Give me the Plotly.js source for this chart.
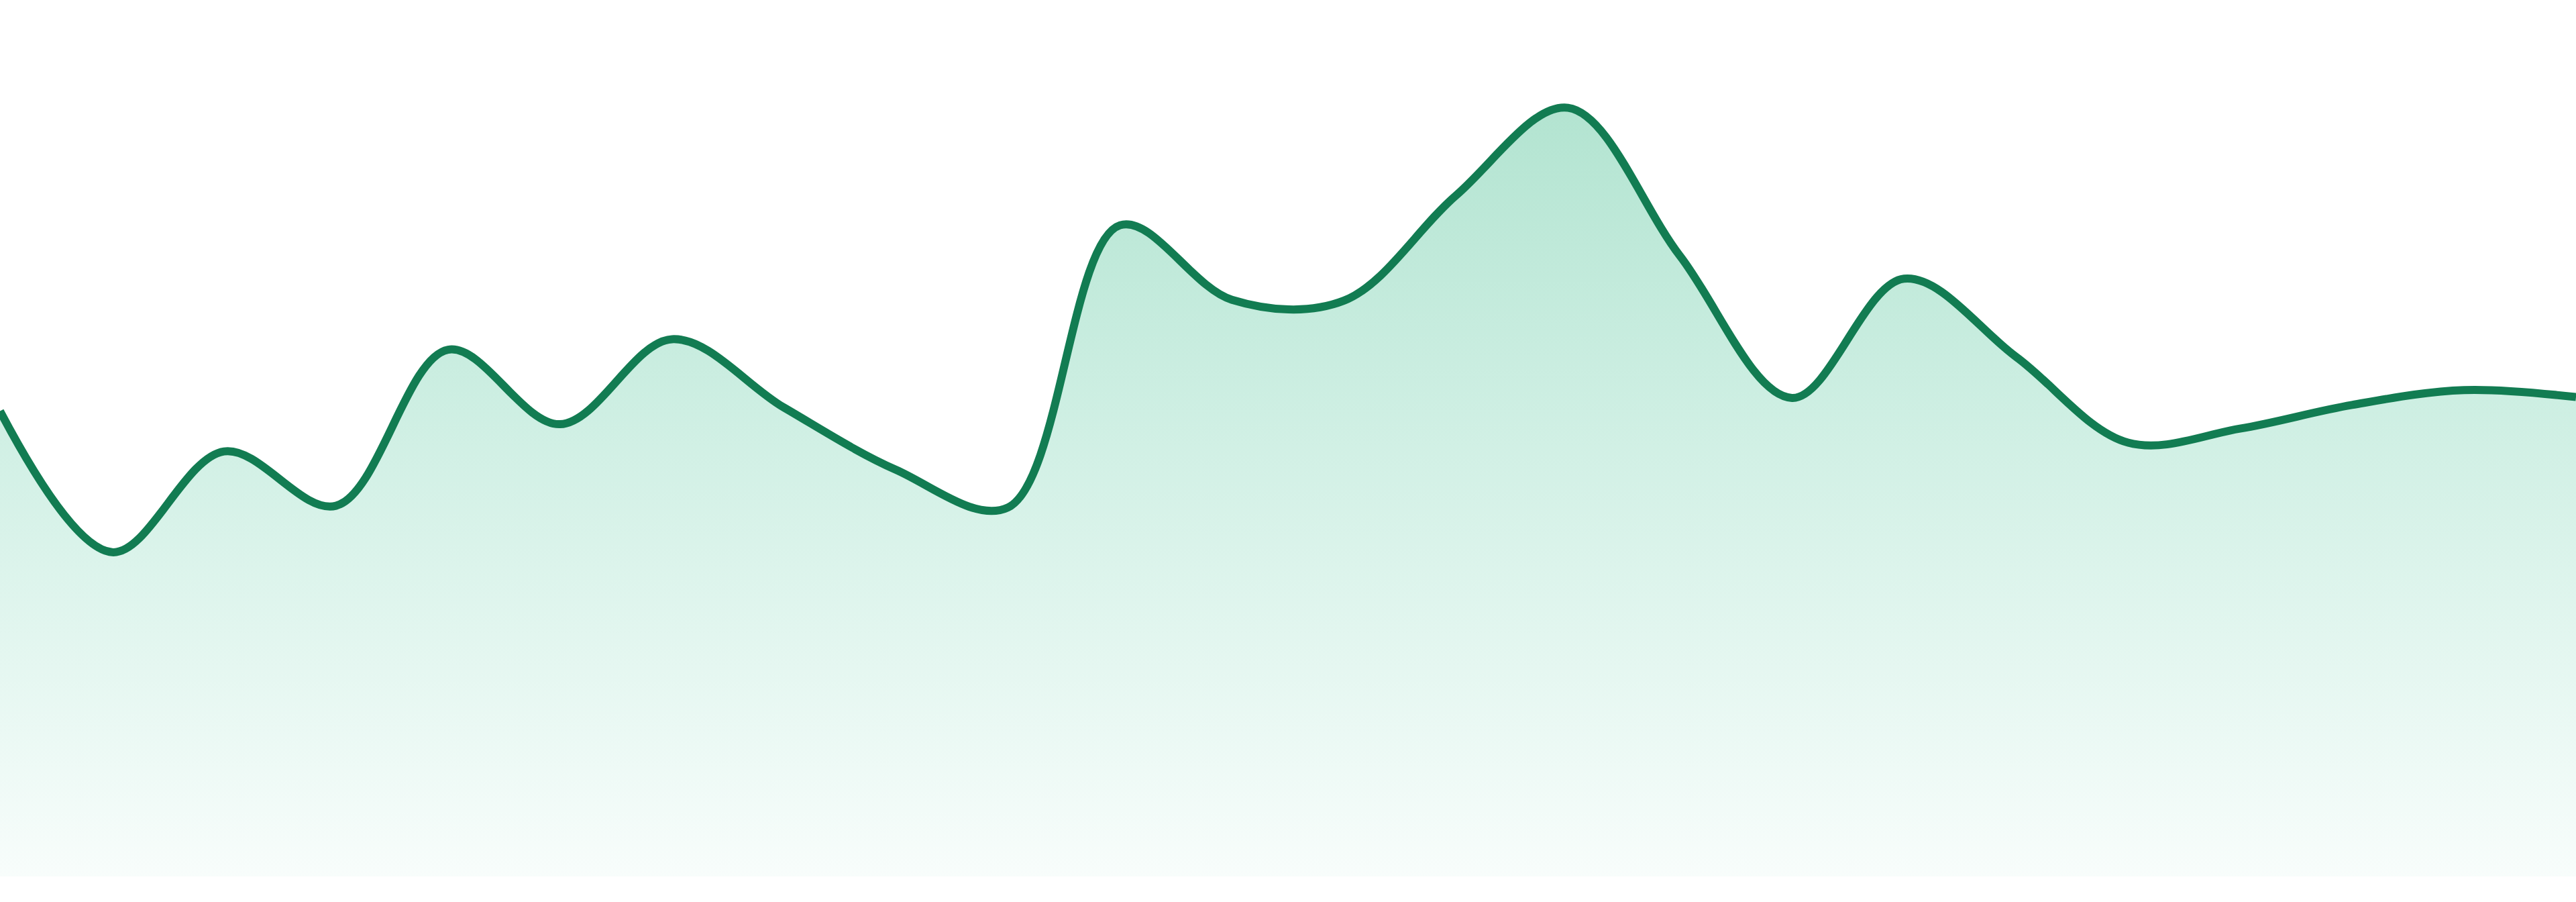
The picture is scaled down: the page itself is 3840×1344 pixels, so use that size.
<!DOCTYPE html>
<html>
<head>
<meta charset="utf-8">
<script src="https://cdn.plot.ly/plotly-3.0.1.min.js"></script>
<style>
  html, body { margin: 0; padding: 0; background: #ffffff; }
  #chart { width: 3840px; height: 1344px; }
</style>
</head>
<body>
<div id="chart"></div>
<script>
// one value per period
const periods = [0, 1, 2, 3, 4, 5, 6, 7, 8, 9, 10, 11, 12, 13, 14, 15, 16, 17, 18, 19, 20, 21, 22, 23];
const values = [53.1, 37.0, 48.5, 42.3, 60.1, 51.6, 61.3, 53.5, 46.4, 42.1, 74.3, 65.8,
                65.7, 77.7, 87.7, 70.8, 54.6, 68.2, 59.3, 49.5, 51.1, 53.8, 55.5, 54.7];

const lineColor = '#127c52';

const trace = {
  type: 'scatter',
  mode: 'lines',
  x: periods,
  y: values,
  line: { color: lineColor, width: 12, shape: 'spline', smoothing: 1 },
  fill: 'tozeroy',
  fillgradient: {
    type: 'vertical',
    start: 0,
    stop: Math.max(...values),
    colorscale: [[0, 'rgba(16,185,129,0.03)'], [1, 'rgba(16,170,110,0.32)']]
  },
  hoverinfo: 'skip'
};

const layout = {
  margin: { l: 0, r: 0, t: 0, b: 38 },
  paper_bgcolor: '#ffffff',
  plot_bgcolor: '#ffffff',
  showlegend: false,
  xaxis: { range: [0, 23], visible: false, fixedrange: true },
  yaxis: { range: [0, 100], visible: false, fixedrange: true }
};

Plotly.newPlot('chart', [trace], layout, { displayModeBar: false, staticPlot: true });
</script>
</body>
</html>
